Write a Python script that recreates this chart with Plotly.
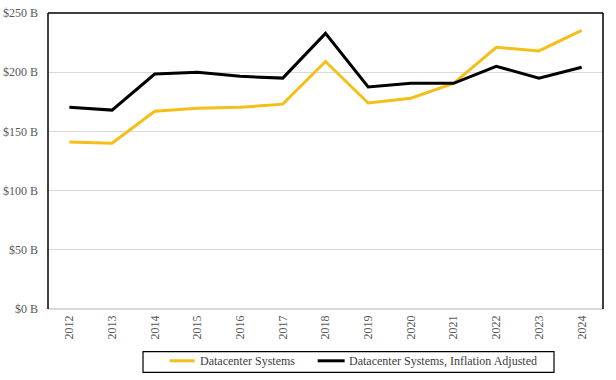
import plotly.graph_objects as go

years = [str(y) for y in range(2012, 2025)]
datacenter = [141, 140, 167, 169.5, 170.3, 173, 209, 174, 178, 190.6, 221, 218, 235.4]
datacenter_adj = [170.3, 168, 198.5, 200, 196.5, 195, 232.8, 187.5, 190.6, 190.6, 205, 195, 204.2]
series_names = ["Datacenter Systems", "Datacenter Systems, Inflation Adjusted"]
series_colors = ["#F5BF1A", "#000000"]
y_ticks = [0, 50, 100, 150, 200, 250]
y_labels = ["$0 B", "$50 B", "$100 B", "$150 B", "$200 B", "$250 B"]

font = dict(family="Liberation Serif", size=12, color="#595959")

fig = go.Figure()
for vals, name, col in zip([datacenter, datacenter_adj], series_names, series_colors):
    fig.add_trace(go.Scatter(x=years, y=vals, mode="lines", name=name,
                             line=dict(color=col, width=3), showlegend=False))

fig.update_layout(
    width=616, height=380,
    margin=dict(l=48, r=13, t=13, b=71, autoexpand=False),
    paper_bgcolor="white", plot_bgcolor="white",
    font=font,
)
fig.update_xaxes(type="category", range=[-0.5, 12.5], tickangle=-90, showgrid=False,
                 showline=False, ticks="", tickfont=font, ticklabelstandoff=3, automargin=False)
fig.update_yaxes(range=[0, 250], tickvals=y_ticks, ticktext=y_labels, showgrid=True,
                 gridcolor="#D9D9D9", gridwidth=1, zeroline=True, zerolinecolor="#D9D9D9",
                 showline=False, ticks="", tickfont=font, ticklabelstandoff=9, automargin=False)
# plot-area frame: left, top, right in black
for x0, x1, y0, y1 in [(0, 0, 0, 1), (0, 1, 1, 1), (1, 1, 0, 1)]:
    fig.add_shape(type="line", xref="paper", yref="paper", x0=x0, x1=x1, y0=y0, y1=y1,
                  line=dict(color="black", width=1.5))

# legend box (drawn manually to match the reference layout)
fig.add_shape(type="rect", xref="paper", yref="paper", x0=0.1712, x1=0.9117, y0=-0.2139, y1=-0.1443,
              line=dict(color="black", width=1.2), fillcolor="white")
leg_line_x = [(0.2192, 0.2643), (0.4859, 0.5345)]
leg_text_x = [0.2697, 0.5380]
for (lx0, lx1), tx, name, col in zip(leg_line_x, leg_text_x, series_names, series_colors):
    fig.add_shape(type="line", xref="paper", yref="paper", x0=lx0, x1=lx1, y0=-0.175, y1=-0.175,
                  line=dict(color=col, width=3))
    fig.add_annotation(xref="paper", yref="paper", x=tx, y=-0.175, text=name, showarrow=False,
                       xanchor="left", yanchor="middle", font=dict(family="Liberation Serif", size=12, color="#404040"))

fig.write_html("out.html", post_script="document.body.style.margin='0';",
               config={"displayModeBar": False})
